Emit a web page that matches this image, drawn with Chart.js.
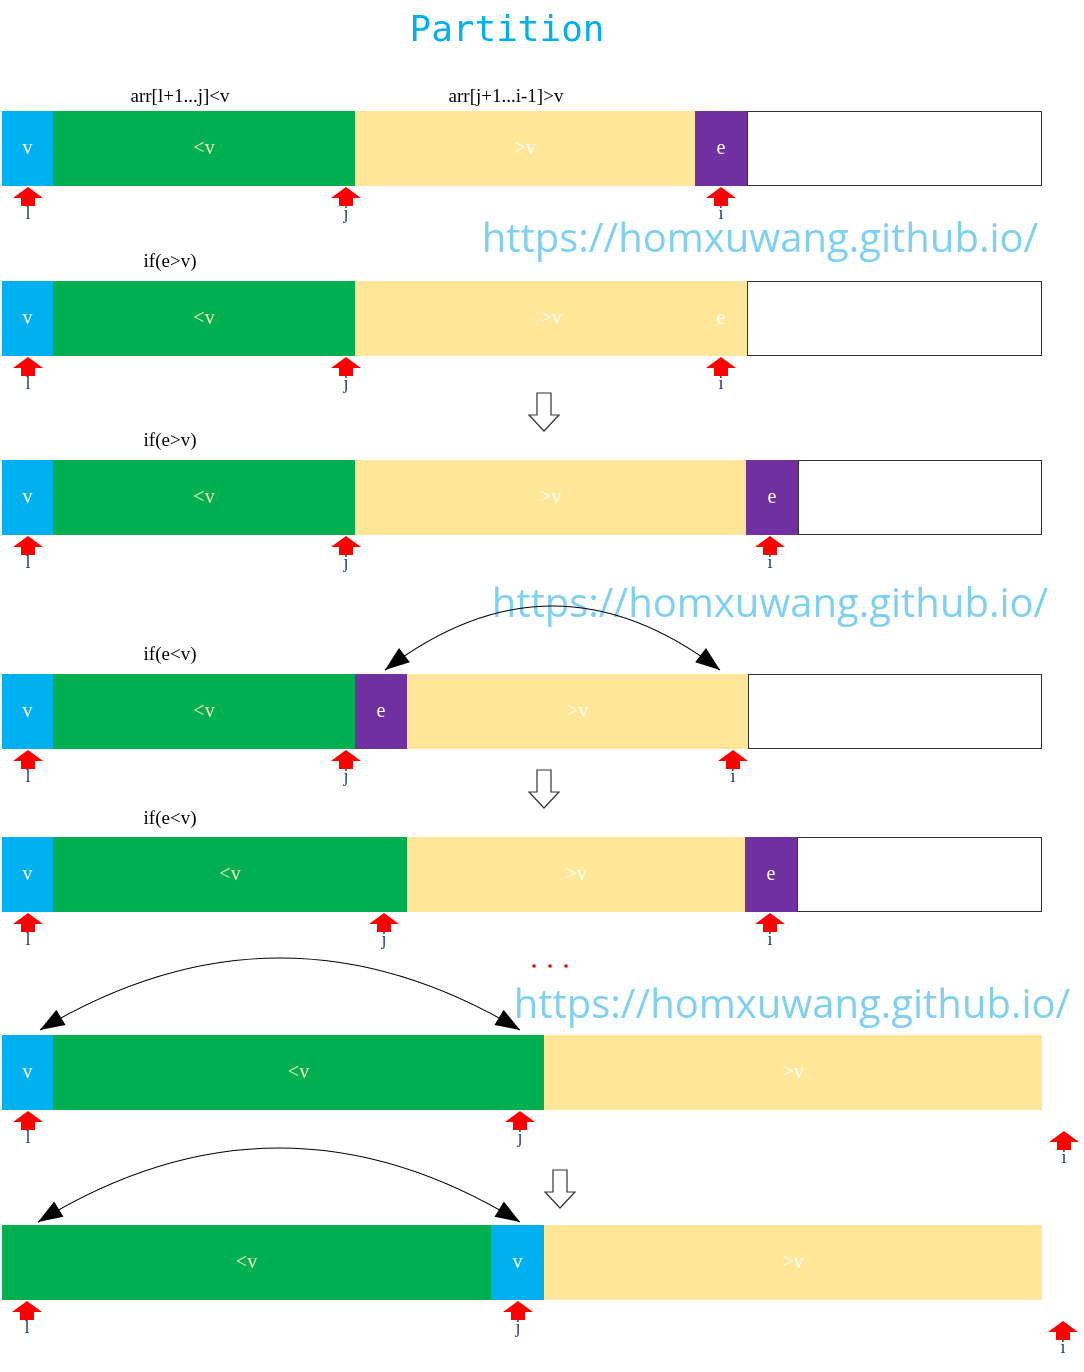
<!DOCTYPE html>
<html>
<head>
<meta charset="utf-8">
<script src="https://cdn.jsdelivr.net/npm/chart.js@4/dist/chart.umd.min.js"></script>
<style>
  body { margin: 0; background: #fff; }
  #wrap { width: 1084px; height: 1372px; }
</style>
</head>
<body>
<div id="wrap"><canvas id="c"></canvas></div>
<script>
// Row geometry (value units match the picture, y grows downward)
const rowTop = [111, 281, 460, 674, 837, 1035, 1225];
const rowHeight = 75;

// Segments: row index, start, end, kind
const segRow   = [0,0,0,0,0, 1,1,1,1, 2,2,2,2,2, 3,3,3,3,3, 4,4,4,4,4, 5,5,5, 6,6,6];
const segStart = [2,53,355,695,747, 2,53,355,747, 2,53,355,746,798, 2,53,355,407,748, 2,53,407,745,797, 2,53,544, 2,491,544];
const segEnd   = [53,355,695,747,1042, 53,355,747,1042, 53,355,746,798,1042, 53,355,407,748,1042, 53,407,745,797,1042, 53,544,1042, 491,544,1042];
const segKind  = ['v','lt','gt','e','w', 'v','lt','gt','w', 'v','lt','gt','e','w', 'v','lt','e','gt','w', 'v','lt','gt','e','w', 'v','lt','gt', 'lt','v','gt'];

const kindFill = { v: '#00b0f0', lt: '#00b050', gt: '#ffe699', e: '#7030a0', w: '#ffffff' };
const kindText = { v: 'v', lt: '<v', gt: '>v', e: 'e', w: '' };
const kindTextColor = { v: '#ffffff', lt: '#f0f0c0', gt: '#ffffff', e: '#ffffff', w: '' };

// Pointer markers (red up arrows with a letter)
const ptrX     = [28,346,721, 28,346,721, 28,346,770, 28,346,733, 28,384,770, 28,520,1064, 27,518,1063];
const ptrY     = [187,187,187, 357,357,357, 536,536,536, 750,750,750, 913,913,913, 1111,1111,1131, 1301,1301,1321];
const ptrLabel = ['l','j','i', 'l','j','i', 'l','j','i', 'l','j','i', 'l','j','i', 'l','j','i', 'l','j','i'];

// Text labels above rows
const labelText = ['arr[l+1...j]<v', 'arr[j+1...i-1]>v', 'if(e>v)', 'if(e>v)', 'if(e<v)', 'if(e<v)'];
const labelX    = [180, 506, 170, 170, 170, 170];
const labelY    = [97, 97, 262, 441, 655, 819];

// Watermarks
const markX = [760, 770, 792];
const markY = [241, 606, 1007];

// Hollow down arrows
const downX = [544, 544, 560];
const downY = [393, 770, 1170];

// Curved swap arrows: from x, to x, base y, peak y
const swapFrom = [385, 40, 38];
const swapTo   = [720, 520, 520];
const swapBase = [670, 1030, 1222];
const swapPeak = [606, 958, 1148];

const diagram = {
  id: 'diagram',
  afterDraw(chart) {
    const ctx = chart.ctx;
    const sx = v => chart.scales.x.getPixelForValue(v);
    const sy = v => chart.scales.y.getPixelForValue(v);
    ctx.save();

    // title
    ctx.fillStyle = '#00b0f0';
    ctx.font = '36px "DejaVu Sans Mono"';
    ctx.textAlign = 'center';
    ctx.textBaseline = 'middle';
    ctx.fillText('Partition', sx(507), sy(32));

    // row outlines for rows with white tail
    ctx.lineWidth = 1;
    segKind.forEach((k, i) => {
      const r = segRow[i];
      const x0 = sx(segStart[i]), x1 = sx(segEnd[i]);
      const y0 = sy(rowTop[r]), y1 = sy(rowTop[r] + rowHeight);
      ctx.fillStyle = kindFill[k];
      ctx.fillRect(x0, y0, x1 - x0, y1 - y0);
      if (k === 'w') {
        ctx.strokeStyle = '#333';
        ctx.strokeRect(x0 + 0.5, y0 + 0.5, x1 - x0 - 1, y1 - y0 - 1);
      }
      if (kindText[k]) {
        ctx.fillStyle = kindTextColor[k];
        ctx.font = '20px "Liberation Serif"';
        ctx.fillText(kindText[k], (x0 + x1) / 2, (y0 + y1) / 2);
      }
    });
    // faint "e" in row 2
    ctx.fillStyle = '#ffffff';
    ctx.fillText('e', sx(721), sy(rowTop[1] + rowHeight / 2));

    // labels
    ctx.fillStyle = '#000';
    ctx.font = '19px "Liberation Serif"';
    labelText.forEach((t, i) => ctx.fillText(t, sx(labelX[i]), sy(labelY[i])));

    // watermarks
    ctx.fillStyle = '#7fd0f2';
    ctx.font = '40px "Open Sans"';
    markX.forEach((x, i) => ctx.fillText('https://homxuwang.github.io/', sx(x), sy(markY[i])));

    // dots
    ctx.fillStyle = '#ff0000';
    [534, 550, 566].forEach(x => { ctx.beginPath(); ctx.arc(sx(x), sy(966), 1.8, 0, Math.PI * 2); ctx.fill(); });

    // pointers
    ptrX.forEach((x, i) => {
      const px = sx(x), py = sy(ptrY[i]);
      ctx.fillStyle = '#ff0000';
      ctx.beginPath();
      ctx.moveTo(px, py);
      ctx.lineTo(px + 15, py + 11);
      ctx.lineTo(px + 7, py + 11);
      ctx.lineTo(px + 7, py + 19);
      ctx.lineTo(px - 7, py + 19);
      ctx.lineTo(px - 7, py + 11);
      ctx.lineTo(px - 15, py + 11);
      ctx.closePath();
      ctx.fill();
      ctx.fillStyle = '#1f3f7f';
      ctx.font = '18px "Liberation Serif"';
      ctx.fillText(ptrLabel[i], px, py + 27);
    });

    // hollow down arrows
    ctx.strokeStyle = '#333';
    ctx.fillStyle = '#fff';
    ctx.lineWidth = 1.2;
    downX.forEach((x, i) => {
      const px = sx(x), py = sy(downY[i]);
      ctx.beginPath();
      ctx.moveTo(px - 7, py);
      ctx.lineTo(px + 7, py);
      ctx.lineTo(px + 7, py + 22);
      ctx.lineTo(px + 15, py + 22);
      ctx.lineTo(px, py + 38);
      ctx.lineTo(px - 15, py + 22);
      ctx.lineTo(px - 7, py + 22);
      ctx.closePath();
      ctx.fill();
      ctx.stroke();
    });

    // swap arcs
    ctx.strokeStyle = '#000';
    ctx.fillStyle = '#000';
    ctx.lineWidth = 1.2;
    const head = (tx, ty, ang) => {
      ctx.beginPath();
      ctx.moveTo(tx, ty);
      ctx.lineTo(tx - 26 * Math.cos(ang - 0.35), ty - 26 * Math.sin(ang - 0.35));
      ctx.lineTo(tx - 26 * Math.cos(ang + 0.35), ty - 26 * Math.sin(ang + 0.35));
      ctx.closePath();
      ctx.fill();
    };
    swapFrom.forEach((fx, i) => {
      const x0 = sx(fx), x1 = sx(swapTo[i]), yb = sy(swapBase[i]);
      const cx = (x0 + x1) / 2, cy = 2 * sy(swapPeak[i]) - yb;
      ctx.beginPath();
      ctx.moveTo(x0, yb);
      ctx.quadraticCurveTo(cx, cy, x1, yb);
      ctx.stroke();
      head(x0, yb, Math.atan2(yb - cy, x0 - cx));
      head(x1, yb, Math.atan2(yb - cy, x1 - cx));
    });
    ctx.restore();
  }
};

new Chart(document.getElementById('c'), {
  type: 'scatter',
  data: { datasets: [{ data: [] }] },
  options: {
    responsive: true,
    maintainAspectRatio: false,
    animation: false,
    layout: { padding: 0 },
    plugins: { legend: { display: false }, tooltip: { enabled: false } },
    scales: {
      x: { type: 'linear', min: 0, max: 1084, display: false },
      y: { type: 'linear', min: 0, max: 1372, reverse: true, display: false }
    }
  },
  plugins: [diagram]
});
</script>
</body>
</html>
